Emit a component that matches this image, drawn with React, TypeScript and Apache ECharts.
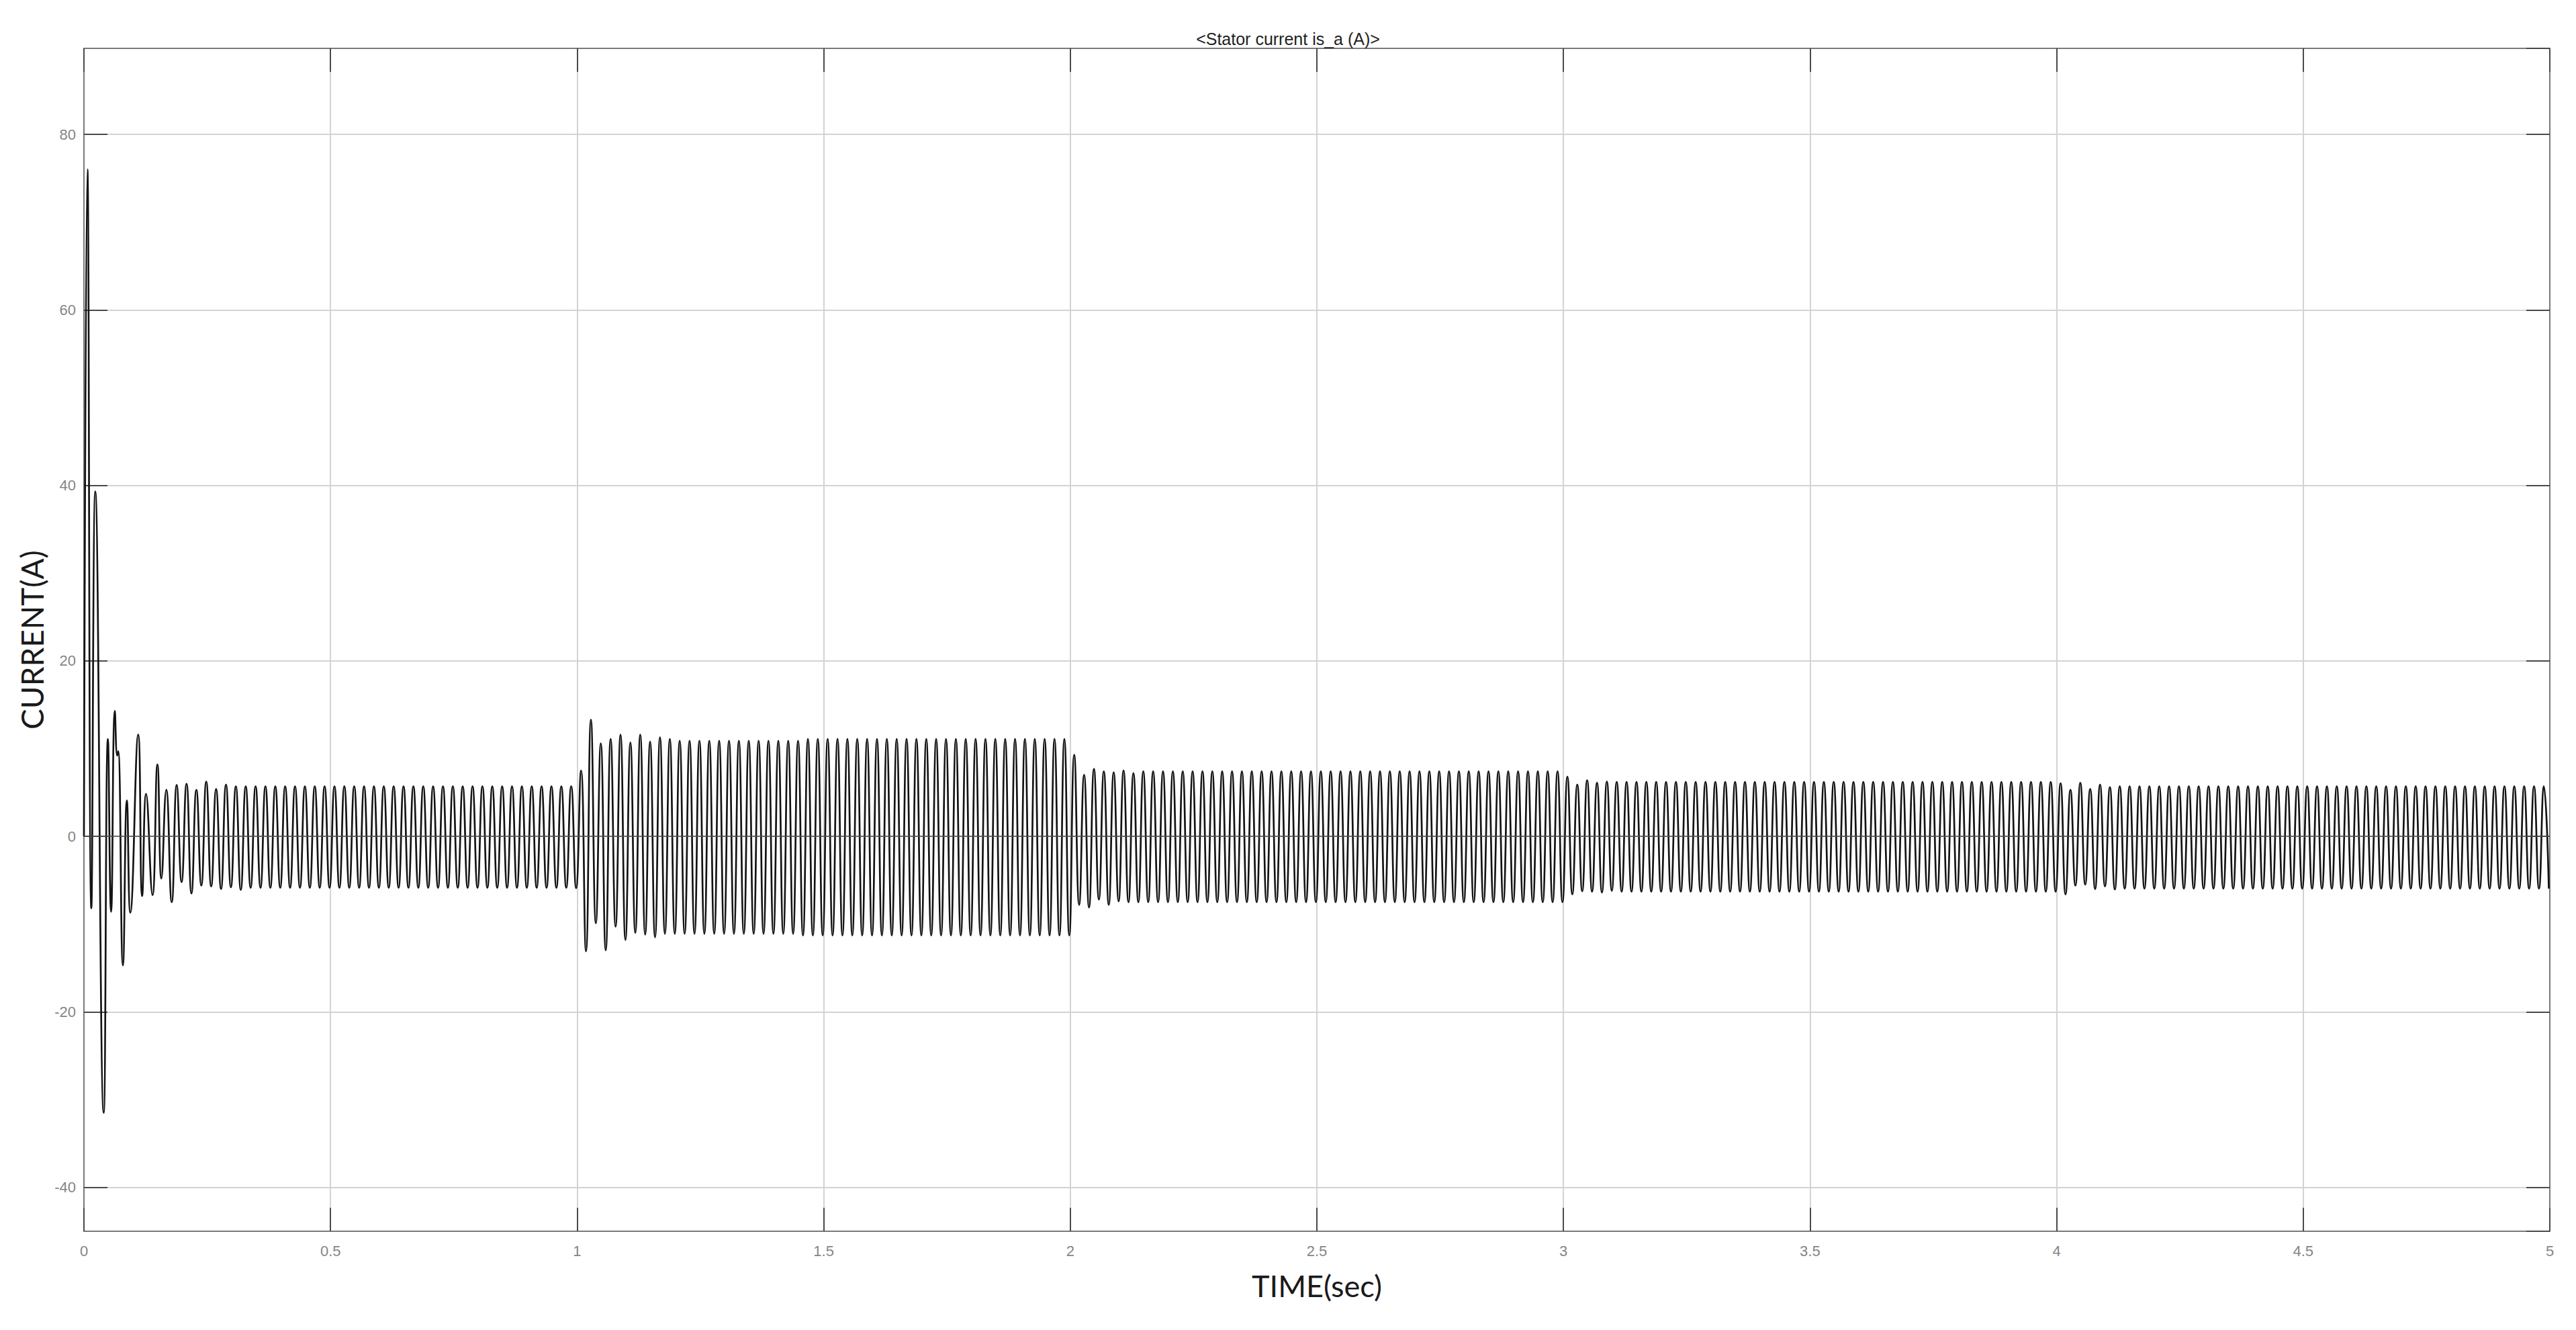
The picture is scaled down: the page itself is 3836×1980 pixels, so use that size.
import React, { useEffect, useRef } from "react";
import * as echarts from "echarts";

const TITLE = "<Stator current is_a (A)>";
const X_NAME = "TIME(sec)";
const Y_NAME = "CURRENT(A)";
const X_MIN = 0;
const X_MAX = 5;
const X_INTERVAL = 0.5;
const Y_MIN = -45;
const Y_MAX = 89.8;

// 50 Hz: extremes every half period; positive peaks at t = 0.008 + 0.02k
const HALF_PERIOD = 0.01;
const PEAK_PHASE = 0.008;

// [time (s), current (A)] extremes
const startupPeaks: number[][] = [
  [0, 0], [0.007, 76], [0.015, -8.2], [0.023, 39.3], [0.04, -31.5], [0.0486, 11.1],
  [0.055, -8.6], [0.0627, 14.3], [0.0675, 9.2], [0.0695, 9.7], [0.079, -14.7],
  [0.087, 4.1], [0.094, -8.7], [0.11, 11.6], [0.118, -6.8], [0.126, 4.85],
  [0.139, -6.7], [0.149, 8.2], [0.157, -4.8], [0.167, 5.3], [0.178, -7.5],
  [0.188, 5.85], [0.198, -5.2], [0.208, 6.0], [0.218, -6.5], [0.228, 5.3],
  [0.238, -5.6], [0.248, 6.25], [0.258, -5.7], [0.268, 5.4], [0.278, -6.0],
  [0.288, 5.9], [0.298, -5.8], [0.308, 5.7], [0.318, -6.1],
];
const step1Peaks: number[][] = [
  [0.998, -5.9], [1.008, 7.5], [1.018, -13.1], [1.028, 13.3], [1.038, -9.9],
  [1.048, 10.6], [1.058, -13.0], [1.068, 11.1], [1.078, -10.3], [1.088, 11.6],
  [1.098, -11.8], [1.108, 10.7], [1.118, -11.0], [1.128, 11.6], [1.138, -11.2],
  [1.148, 10.8], [1.158, -11.5], [1.168, 11.3], [1.178, -11.1], [1.188, 11.1],
];
const step2Peaks: number[][] = [
  [1.998, -11.3], [2.008, 9.3], [2.018, -7.8], [2.028, 7.0], [2.038, -8.1],
  [2.048, 7.7], [2.058, -7.2], [2.068, 7.4], [2.078, -7.8], [2.088, 7.3],
  [2.098, -7.4], [2.108, 7.5], [2.118, -7.5], [2.128, 7.2], [2.138, -7.5],
];
const step3Peaks: number[][] = [
  [2.998, -7.5], [3.008, 6.8], [3.018, -6.6], [3.028, 5.9], [3.038, -6.25],
  [3.048, 6.4], [3.058, -6.3], [3.068, 6.1], [3.078, -6.4], [3.088, 6.25],
  [3.098, -6.2],
];
const step4Peaks: number[][] = [
  [3.998, -6.3], [4.008, 6.05], [4.018, -6.6], [4.028, 5.3], [4.038, -5.6],
  [4.048, 6.1], [4.058, -5.5], [4.068, 5.4], [4.078, -6.0], [4.088, 5.9],
  [4.098, -5.7], [4.108, 5.6], [4.118, -6.05], [4.128, 5.7],
];

// steady stretches: [first extreme t, last extreme t, positive peak, negative peak]
const steady1 = [0.328, 0.988, 5.7, -5.85];
const steady2a = [1.198, 1.448, 10.9, -11.1];
const steady2b = [1.458, 1.988, 11.1, -11.3];
const steady3 = [2.148, 2.988, 7.4, -7.5];
const steady4 = [3.108, 3.988, 6.2, -6.3];
const steady5 = [4.138, 4.998, 5.7, -5.95];

function steadyPeaks(seg: number[]): number[][] {
  const [t0, t1, pos, neg] = seg;
  const k0 = Math.round((t0 - PEAK_PHASE) / HALF_PERIOD);
  const k1 = Math.round((t1 - PEAK_PHASE) / HALF_PERIOD);
  const out: number[][] = [];
  for (let k = k0; k <= k1; k++) {
    out.push([+(PEAK_PHASE + k * HALF_PERIOD).toFixed(4), k % 2 === 0 ? pos : neg]);
  }
  return out;
}

const signal: number[][] = [
  ...startupPeaks,
  ...steadyPeaks(steady1),
  ...step1Peaks,
  ...steadyPeaks(steady2a),
  ...steadyPeaks(steady2b),
  ...step2Peaks,
  ...steadyPeaks(steady3),
  ...step3Peaks,
  ...steadyPeaks(steady4),
  ...step4Peaks,
  ...steadyPeaks(steady5),
];

const LABEL_FONT = "'Liberation Sans', Arial, Helvetica, sans-serif";
const NAME_FONT = "Lato, 'Open Sans', sans-serif";

export default function App() {
  const ref = useRef<HTMLDivElement>(null);
  useEffect(() => {
    document.body.style.margin = "0";
    const chart = echarts.init(ref.current!, undefined, { renderer: "svg" });
    const tickStyle = { color: "#4a4a4a", width: 2 };
    const lineStyle = { color: "#7a7a7a", width: 2 };
    chart.setOption({
      animation: false,
      backgroundColor: "#ffffff",
      title: {
        text: TITLE,
        left: "center",
        top: 40,
        textStyle: { fontFamily: LABEL_FONT, fontSize: 25, fontWeight: "normal", color: "#222" },
      },
      grid: { left: 125, right: 39, top: 72, bottom: 147, containLabel: false },
      xAxis: [
        {
          type: "value",
          position: "bottom",
          min: X_MIN,
          max: X_MAX,
          interval: X_INTERVAL,
          name: X_NAME,
          nameLocation: "middle",
          nameGap: 58,
          nameTextStyle: { fontFamily: NAME_FONT, fontSize: 45, color: "#1a1a1a" },
          axisLine: { show: true, onZero: false, lineStyle },
          axisTick: { show: true, inside: true, length: 35, lineStyle: tickStyle },
          axisLabel: { fontFamily: LABEL_FONT, fontSize: 22, color: "#858585", margin: 18 },
          splitLine: { show: true, lineStyle: { color: "#d3d3d3", width: 2 } },
        },
        {
          type: "value",
          position: "top",
          min: X_MIN,
          max: X_MAX,
          interval: X_INTERVAL,
          axisLine: { show: true, onZero: false, lineStyle },
          axisTick: { show: true, inside: true, length: 35, lineStyle: tickStyle },
          axisLabel: { show: false },
          splitLine: { show: false },
        },
      ],
      yAxis: [
        {
          type: "value",
          position: "left",
          min: Y_MIN,
          max: Y_MAX,
          splitNumber: 7,
          name: Y_NAME,
          nameLocation: "middle",
          nameGap: 52,
          nameRotate: 90,
          nameTextStyle: { fontFamily: NAME_FONT, fontSize: 46, color: "#1a1a1a" },
          axisLine: { show: true, onZero: false, lineStyle },
          axisTick: { show: true, inside: true, length: 35, lineStyle: tickStyle },
          axisLabel: {
            fontFamily: LABEL_FONT,
            fontSize: 22,
            color: "#858585",
            margin: 12,
            showMinLabel: false,
            showMaxLabel: false,
            formatter: (v: number) => (Math.abs(v % 20) < 1e-9 ? String(v) : ""),
          },
          splitLine: { show: true, lineStyle: { color: "#d3d3d3", width: 2 } },
        },
        {
          type: "value",
          position: "right",
          min: Y_MIN,
          max: Y_MAX,
          splitNumber: 7,
          axisLine: { show: true, onZero: false, lineStyle },
          axisTick: { show: true, inside: true, length: 35, lineStyle: tickStyle },
          axisLabel: { show: false },
          splitLine: { show: false },
        },
      ],
      series: [
        {
          type: "line",
          xAxisIndex: 0,
          yAxisIndex: 0,
          data: signal,
          smooth: 0.5,
          showSymbol: false,
          symbol: "none",
          lineStyle: { color: "#141414", width: 2.7 },
          clip: true,
          markLine: {
            silent: true,
            symbol: "none",
            label: { show: false },
            lineStyle: { color: "#4d4d4d", width: 1.5, type: "solid" },
            data: [{ yAxis: 0 }],
          },
        },
      ],
    });
    return () => chart.dispose();
  }, []);
  return (
    <div
      ref={ref}
      style={{ position: "fixed", left: 0, top: 0, width: 3836, height: 1980, background: "#fff" }}
    />
  );
}
